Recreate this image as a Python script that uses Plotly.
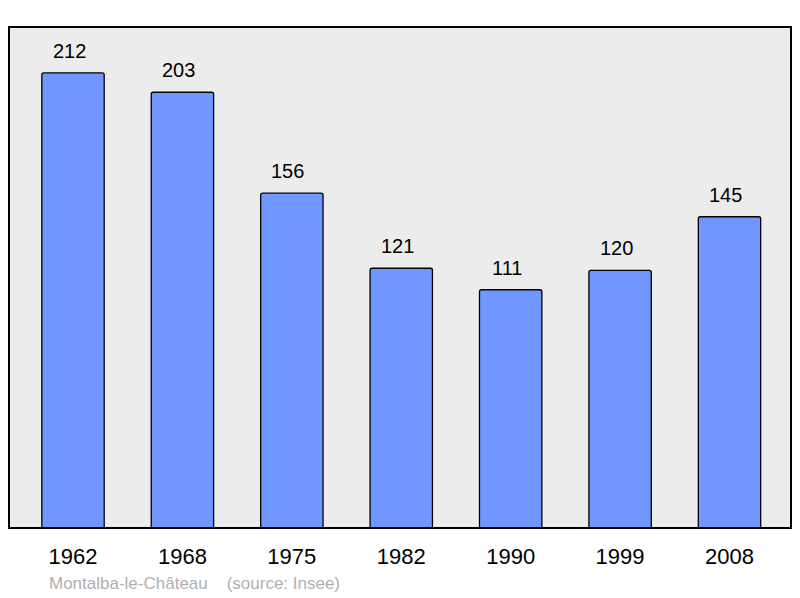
import plotly.graph_objects as go

years = ["1962", "1968", "1975", "1982", "1990", "1999", "2008"]
population = [212, 203, 156, 121, 111, 120, 145]
footer_text = "Montalba-le-Château    (source: Insee)"

xs = list(range(len(years)))

fig = go.Figure()
fig.add_trace(go.Bar(
    x=xs, y=population, width=0.57,
    marker=dict(color="#7096FF", line=dict(color="#000000", width=1.3), cornerradius=2),
    hoverinfo="skip",
))

for xi, v in zip(xs, population):
    fig.add_annotation(x=xi, y=v, text=str(v), showarrow=False, yanchor="bottom",
                       yshift=9, xshift=-4,
                       font=dict(size=20, color="#000000", family="Liberation Sans"))

fig.add_annotation(xref="paper", yref="paper", x=38 / 782, y=-0.11, xanchor="left",
                   yanchor="middle", text=footer_text.replace("  ", "&nbsp;&nbsp;"),
                   showarrow=False, font=dict(size=17, color="#B0B0B0", family="Liberation Sans"))

fig.add_shape(type="rect", xref="paper", yref="paper", x0=0, x1=1, y0=0, y1=1,
              line=dict(color="#000000", width=2), layer="above")

fig.update_layout(
    width=792, height=590,
    margin=dict(l=1, r=9, t=19, b=70),
    paper_bgcolor="#FFFFFF", plot_bgcolor="#ECECEC",
    showlegend=False,
    font=dict(family="Liberation Sans"),
    xaxis=dict(range=[-0.585, 6.562], tickvals=xs, ticktext=years, showgrid=False,
               zeroline=False, ticks="", tickfont=dict(size=22, color="#000000"),
               ticklabelstandoff=13, fixedrange=True),
    yaxis=dict(range=[0, 233.4], showgrid=False, zeroline=False, showticklabels=False,
               ticks="", fixedrange=True),
)

fig.write_html("out.html")
